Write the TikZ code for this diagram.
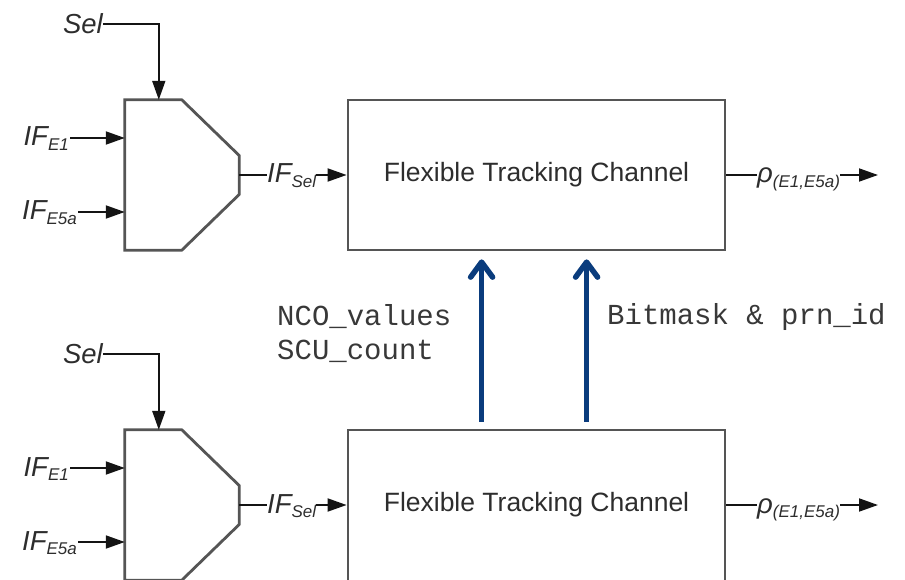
\documentclass[tikz,border=0pt]{standalone}
\usepackage{fontspec}
\setmainfont{Liberation Sans}
\newfontfamily\monof{Liberation Mono}
\usetikzlibrary{arrows.meta,calc}
\definecolor{navy}{RGB}{10,60,125}
\definecolor{edgec}{RGB}{85,85,85}
\definecolor{txtc}{RGB}{45,45,45}
\definecolor{linec}{RGB}{20,20,20}
\newcommand{\lsub}[1]{\raisebox{-0.3ex}{\fontsize{17}{17}\selectfont #1}}
\begin{document}
\begin{tikzpicture}[x=1pt,y=-1pt,
  conn/.style={line width=1.8pt, draw=linec, -{Triangle[length=19pt,width=13pt]}},
  plainline/.style={line width=1.8pt, draw=linec},
  boxst/.style={draw=edgec, line width=2.8pt, minimum width=377pt, minimum height=150pt,
    font=\fontsize{26.5}{26.5}\selectfont, text=txtc},
  muxst/.style={draw=edgec, line width=2.8pt, line join=miter},
  muxbox/.style={minimum width=114pt, minimum height=150pt, inner sep=0pt},
  lab/.style={font=\fontsize{27.5}{27.5}\selectfont\itshape, text=txtc, inner sep=0pt},
  mono/.style={font=\monof\fontsize{29}{29}\selectfont, text=black!78, inner sep=0pt, anchor=west},
  bluearrow/.style={draw=navy, line width=5.5pt, -{Straight Barb[length=15pt,width=22pt,round]}}
]
\useasboundingbox (0,0) rectangle (905,580);
\clip (0,0) rectangle (905,580);

% ---------- top channel ----------
\node[muxbox] (muxa) at (182,175) {};
\draw[muxst] (muxa.north west) -- ($(muxa.north west)+(57,0)$) -- ($(muxa.east)+(0,-19.5)$)
  -- ($(muxa.east)+(0,19.5)$) -- ($(muxa.south west)+(57,0)$) -- (muxa.south west) -- cycle;
\node[boxst] (boxa) at (536.5,175) {Flexible Tracking Channel};

\node[lab, anchor=east] (sela) at (103,24) {Sel};
\draw[conn] (sela.east) -| ($(muxa.north west)+(34,0)$);

\node[lab, anchor=base east] (ife1a) at (69,146) {IF\lsub{E1}};
\draw[conn] ($(ife1a.base east)+(1,-8)$) -- ($(muxa.west)+(0,-37)$);

\node[lab, anchor=base east] (ife5a) at (77,220) {IF\lsub{E5a}};
\draw[conn] ($(ife5a.base east)+(1,-8)$) -- ($(muxa.west)+(0,37)$);

\node[lab, anchor=base west] (ifsela) at (267,183) {IF\lsub{Sel}};
\draw[plainline] (muxa.east) -- (ifsela.west |- muxa.east);
\draw[conn] (ifsela.east |- muxa.east) -- (boxa.west);

\node[lab, anchor=base west] (rhoa) at (757,183) {ρ\lsub{(E1,E5a)}};
\coordinate (enda) at (878,175);
\draw[plainline] (boxa.east) -- (rhoa.west |- boxa.east);
\draw[conn] (rhoa.east |- boxa.east) -- (enda);

% ---------- bottom channel ----------
\node[muxbox] (muxb) at (182,505) {};
\draw[muxst] (muxb.north west) -- ($(muxb.north west)+(57,0)$) -- ($(muxb.east)+(0,-19.5)$)
  -- ($(muxb.east)+(0,19.5)$) -- ($(muxb.south west)+(57,0)$) -- (muxb.south west) -- cycle;
\node[boxst, minimum height=156pt] (boxb) at (536.5,508) {};
\node[font=\fontsize{26.5}{26.5}\selectfont, text=txtc] (ftcb) at (536.5,505) {Flexible Tracking Channel};

\node[lab, anchor=east] (selb) at (103,354) {Sel};
\draw[conn] (selb.east) -| ($(muxb.north west)+(34,0)$);

\node[lab, anchor=base east] (ife1b) at (69,476) {IF\lsub{E1}};
\draw[conn] ($(ife1b.base east)+(1,-8)$) -- ($(muxb.west)+(0,-37)$);

\node[lab, anchor=base east] (ife5b) at (77,550) {IF\lsub{E5a}};
\draw[conn] ($(ife5b.base east)+(1,-8)$) -- ($(muxb.west)+(0,37)$);

\node[lab, anchor=base west] (ifselb) at (267,513) {IF\lsub{Sel}};
\draw[plainline] (muxb.east) -- (ifselb.west |- muxb.east);
\draw[conn] (ifselb.east |- muxb.east) -- (boxb.west |- muxb.east);

\node[lab, anchor=base west] (rhob) at (757,513) {ρ\lsub{(E1,E5a)}};
\coordinate (endb) at (878,505);
\draw[plainline] (boxb.east |- muxb.east) -- (rhob.west |- muxb.east);
\draw[conn] (rhob.east |- muxb.east) -- (endb);

% ---------- control arrows ----------
\draw[bluearrow] ($(boxb.north west)+(135,-7)$) -- ($(boxa.south west)+(135,8)$);
\draw[bluearrow] ($(boxb.north west)+(240,-7)$) -- ($(boxa.south west)+(240,8)$);

\node[mono] (nco) at (277,317) {NCO\_values};
\node[mono] (scu) at (277,351) {SCU\_count};
\node[mono] (bit) at (607,317) {Bitmask \& prn\_id};
\end{tikzpicture}
\end{document}
